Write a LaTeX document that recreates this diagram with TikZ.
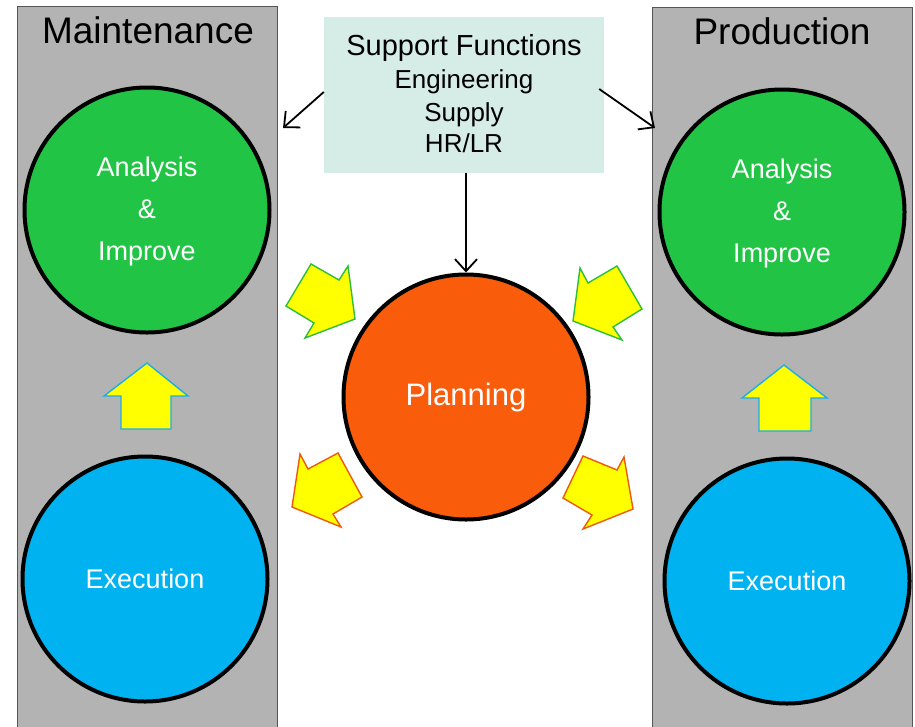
\documentclass[tikz,border=0pt]{standalone}
\usepackage{fontspec}
\setmainfont{Liberation Sans}
\usetikzlibrary{arrows.meta}
\definecolor{grayband}{HTML}{B3B3B3}
\definecolor{bandline}{HTML}{555555}
\definecolor{supfill}{HTML}{D6EDE7}
\definecolor{greenc}{HTML}{22C445}
\definecolor{bluec}{HTML}{00B2F0}
\definecolor{orangec}{HTML}{F95C0A}
\definecolor{yel}{HTML}{FFFF00}
\definecolor{greenline}{HTML}{2DBE3C}
\definecolor{orangeline}{HTML}{EE5A0A}
\definecolor{blueline}{HTML}{1AAEE8}
\tikzset{
  band/.style={draw=bandline, line width=1pt, fill=grayband, anchor=north west,
    minimum width=260pt, minimum height=740pt, inner sep=0pt},
  bandtitle/.style={font=\fontsize{37}{40}\selectfont, text=black, inner sep=0pt},
  bigc/.style={circle, draw=black, line width=4pt, minimum size=245pt, inner sep=0pt,
    text=white, align=center, font=\fontsize{27}{42}\selectfont},
  supbox/.style={fill=supfill, minimum width=280pt, minimum height=156pt, inner sep=0pt,
    align=center, text=black, font=\fontsize{26}{33}\selectfont},
  conn/.style={line width=1.8pt, draw=black, -{Straight Barb[length=12pt,width=22pt,line width=1.8pt]}},
  blockarrow/.style={fill=yel, line width=1.4pt, line join=miter},
}
\begin{document}
\begin{tikzpicture}[x=1pt,y=-1pt]
\useasboundingbox (0,0) rectangle (915,726);
\fill[white] (0,0) rectangle (915,726);
% bands
\node[band] (mband) at (17,6) {};
\node[band] (pband) at (652,7) {};
\node[bandtitle] (mtitle) at (148,30) {Maintenance};
\node[bandtitle] (ptitle) at (782,31) {Production};
% support box
\node[supbox] (sup) at (464,95) {{\fontsize{29}{33}\selectfont Support Functions}\\
  Engineering\\ Supply\\[-2pt] HR/LR\rule[-4pt]{0pt}{4pt}};
% circles
\node[bigc, fill=greenc] (manA) at (147,210) {\rule{0pt}{23.5pt}Analysis\\\&\\Improve};
\node[bigc, fill=bluec] (manE) at (145,579) {Execution};
\node[bigc, fill=greenc] (proA) at (782,212) {\rule{0pt}{23.5pt}Analysis\\\&\\Improve};
\node[bigc, fill=bluec] (proE) at (787,581) {Execution};
\node[bigc, fill=orangec, font=\fontsize{31}{36}\selectfont] (plan) at (466,397) {Planning};
% connectors
\coordinate (mtip) at (283,128);
\coordinate (ptip) at (655,128);
\draw[conn] ([yshift=3pt]sup.west) -- (mtip);
\draw[conn] ([xshift=-5pt,yshift=6pt]sup.east) -- (ptip);
\draw[conn] (sup.south -| plan.north) -- (plan.north);
% up arrows
\draw[blockarrow, draw=blueline] (147,363) -- (188,396) -- (171,396) -- (171,429)
  -- (121,429) -- (121,396) -- (104,396) -- cycle;
\draw[blockarrow, draw=blueline] (784,365) -- (827,398) -- (811,398) -- (811,431)
  -- (759,431) -- (759,398) -- (742,398) -- cycle;
% diagonal block arrows
\draw[blockarrow, draw=greenline] (286,306) -- (311,264) -- (339,280) -- (348,266)
  -- (355,319) -- (305,338) -- (314,323) -- cycle;
\draw[blockarrow, draw=greenline] (573,321) -- (580,268) -- (588,283) -- (617,266)
  -- (642,309) -- (613,327) -- (622,340) -- cycle;
\draw[blockarrow, draw=orangeline] (292,507) -- (300,454) -- (308,469) -- (338,453)
  -- (362,497) -- (333,514) -- (341,527) -- cycle;
\draw[blockarrow, draw=orangeline] (633,509) -- (583,529) -- (592,515) -- (563,498)
  -- (583,456) -- (617,470) -- (624,457) -- cycle;
\end{tikzpicture}
\end{document}
